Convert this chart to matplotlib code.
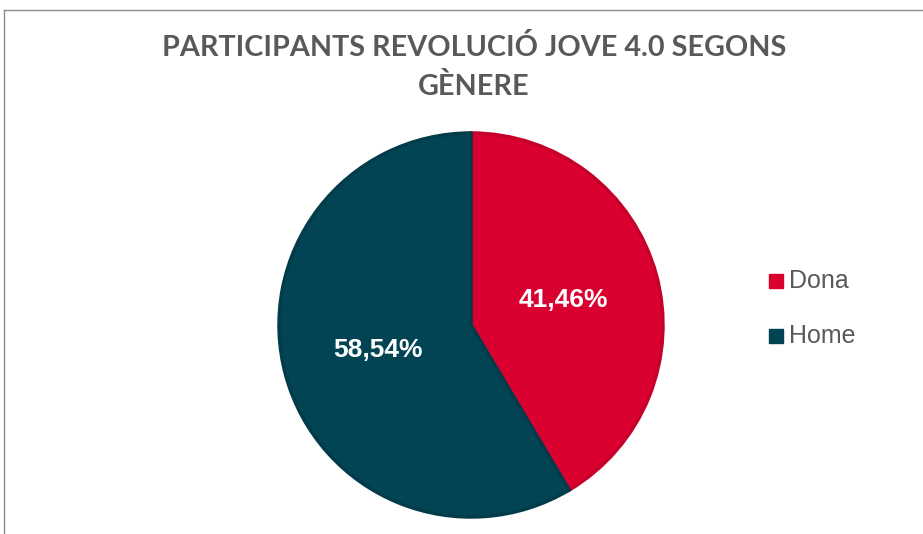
import matplotlib.pyplot as plt
from matplotlib.lines import Line2D
from matplotlib.patches import Rectangle

title = "PARTICIPANTS REVOLUCIÓ JOVE 4.0 SEGONS\nGÈNERE"
labels = ["Dona", "Home"]
shares = [41.46, 58.54]
colors = ["#DA0030", "#024454"]
edge_colors = ["#C4002B", "#023B4A"]

W, H = 923, 534
fig = plt.figure(figsize=(W / 100, H / 100), dpi=100)

# chart frame (left and top edges visible in the crop)
fig.add_artist(Line2D([4 / W, 4 / W], [0, 1 - 10 / H], transform=fig.transFigure,
                      color="#8c8c8c", lw=1))
fig.add_artist(Line2D([4 / W, 1], [1 - 10 / H, 1 - 10 / H], transform=fig.transFigure,
                      color="#8c8c8c", lw=1))

cx, cy, r = 471, 325, 192
ax = fig.add_axes([(cx - r) / W, (H - cy - r) / H, 2 * r / W, 2 * r / H])
wedges, _, autotexts = ax.pie(
    shares, colors=colors, startangle=90, counterclock=False,
    autopct=lambda p: f"{p:.2f}%".replace(".", ","), pctdistance=0.5,
    wedgeprops=dict(linewidth=2.5, joinstyle="miter"),
    textprops=dict(color="white", fontsize=19, fontweight="bold",
                   family="Liberation Sans"),
)
for w, ec in zip(wedges, edge_colors):
    w.set_edgecolor(ec)
ax.set_xlim(-1, 1)
ax.set_ylim(-1, 1)
ax.set_aspect("equal")

fig.text(474 / W, 1 - 67 / H, title, ha="center", va="center", fontsize=20.7,
         fontweight="bold", color="#595959", family="Lato", linespacing=1.55)

# legend
for i, (lab, c) in enumerate(zip(labels, colors)):
    y = 281 + i * 55
    fig.add_artist(Rectangle((769 / W, 1 - (y + 7) / H), 14 / W, 14 / H,
                             transform=fig.transFigure, color=c))
    fig.text(789 / W, 1 - y / H, lab, ha="left", va="center", fontsize=18,
             color="#595959", family="Liberation Sans")

fig.savefig("out.png", dpi=100)
